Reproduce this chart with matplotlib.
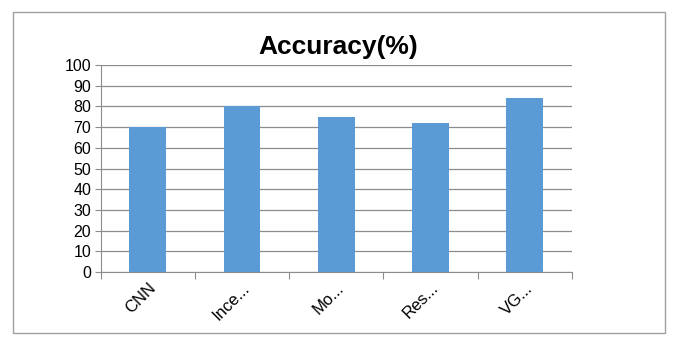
import numpy as np
import matplotlib
matplotlib.use("Agg")
import matplotlib.pyplot as plt
from matplotlib.patches import Rectangle

plt.rcParams['font.family'] = ['Liberation Sans Narrow', 'Liberation Sans', 'DejaVu Sans']

models = ["CNN", "Ince...", "Mo...", "Res...", "VG..."]
accuracy = [70, 80, 75, 72, 84]
yticks = list(range(0, 101, 10))

fig = plt.figure(figsize=(6.76, 3.48), dpi=100)
ax = fig.add_axes([0.149, 0.218, 0.697, 0.595])

x = np.arange(len(models))
ax.bar(x, accuracy, width=0.39, color="#5B9BD5", zorder=3)

ax.set_xlim(-0.5, len(models) - 0.5)
ax.set_ylim(0, 100)
ax.set_yticks(yticks)
ax.set_yticklabels([str(v) for v in yticks], fontsize=11.5)
ax.yaxis.grid(True, color="#8c8c8c", linewidth=0.9, zorder=0)

# category boundaries get the tick marks, centres get the labels
ax.set_xticks(np.arange(len(models) + 1) - 0.5)
ax.set_xticklabels([])
ax.set_xticks(x, minor=True)
ax.set_xticklabels(models, minor=True, rotation=45, ha="right",
                   rotation_mode="anchor", fontsize=12)
ax.tick_params(axis="x", which="major", length=5, color="#8c8c8c")
ax.tick_params(axis="x", which="minor", length=0, pad=6)
ax.tick_params(axis="y", length=4, color="#8c8c8c", pad=3)

for s in ["top", "right"]:
    ax.spines[s].set_visible(False)
ax.spines["left"].set_color("#8c8c8c")
ax.spines["bottom"].set_color("#8c8c8c")

fig.text(0.5, 0.865, "Accuracy(%)", ha="center", va="center",
         fontsize=19, fontweight="bold")

fig.patches.append(Rectangle((13 / 676, 1 - 333 / 348), 652 / 676, 321 / 348,
                             transform=fig.transFigure, fill=False,
                             edgecolor="#a0a0a0", linewidth=1))

fig.savefig("out.png", dpi=100)
